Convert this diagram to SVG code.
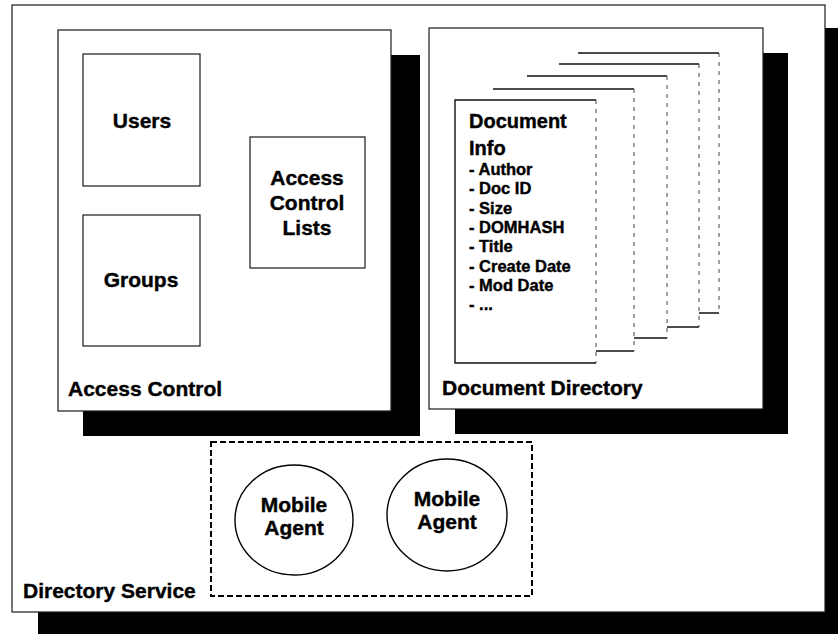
<svg xmlns="http://www.w3.org/2000/svg" width="838" height="634" viewBox="0 0 838 634">
<style>
.shadow{fill:#000}
.box{fill:#fff;stroke:#1a1a1a;stroke-width:1.2}
.cardbg{fill:#fff;stroke:none}
.edge{fill:none;stroke:#111;stroke-width:1.4}
.side{fill:none;stroke:#444;stroke-width:1;stroke-dasharray:4 5}
.agentbox{fill:none;stroke:#000;stroke-width:2;stroke-dasharray:6 3}
.agent{fill:#fff;stroke:#000;stroke-width:1.4}
text{font-family:"Liberation Sans",Arial,Helvetica,sans-serif;font-weight:bold;fill:#000;stroke:#000;stroke-width:0.4}
.t{font-size:21px}
.c{text-anchor:middle}
.h{font-size:20px}
.li{font-size:16.5px}
</style>
<rect width="838" height="634" fill="#fff"/>
<g id="directory-service">
<rect class="shadow" x="38" y="28" width="800" height="606"/>
<rect class="box" x="12" y="5" width="813" height="607"/>
<text class="t" x="23" y="598">Directory Service</text>
</g>
<g id="access-control">
<rect class="shadow" x="83" y="55" width="337" height="381"/>
<rect class="box" x="58" y="30" width="333" height="381"/>
<text class="t" x="68" y="396">Access Control</text>
</g>
<g id="users">
<rect class="box" x="83" y="54" width="117" height="132"/>
<text class="t c" x="142" y="128">Users</text>
</g>
<g id="groups">
<rect class="box" x="83" y="215" width="117" height="131"/>
<text class="t c" x="141" y="287">Groups</text>
</g>
<g id="access-control-lists">
<rect class="box" x="250" y="137" width="115" height="131"/>
<text class="t c" x="307" y="185">Access</text>
<text class="t c" x="307" y="210">Control</text>
<text class="t c" x="307" y="235">Lists</text>
</g>
<g id="document-directory">
<rect class="shadow" x="455" y="53" width="333" height="381"/>
<rect class="box" x="429" y="28" width="334" height="381"/>
<text class="t" x="442" y="395">Document Directory</text>
</g>
<g id="document-cards">
<rect class="cardbg" x="578" y="53" width="141" height="260"/>
<path class="edge" d="M578 53H719M699 313H719"/>
<path class="side" d="M719 53V313"/>
<rect class="cardbg" x="559" y="64" width="140" height="263"/>
<path class="edge" d="M559 64H699M667 327H699"/>
<path class="side" d="M699 64V327"/>
<rect class="cardbg" x="527" y="76" width="140" height="262"/>
<path class="edge" d="M527 76H667M634 338H667"/>
<path class="side" d="M667 76V338"/>
<rect class="cardbg" x="493" y="89" width="141" height="262"/>
<path class="edge" d="M493 89H634M596 351H634"/>
<path class="side" d="M634 89V351"/>
</g>
<g id="document-info">
<rect class="cardbg" x="455" y="100" width="141" height="263"/>
<path class="edge" d="M596 100H455V363H596"/>
<path class="side" d="M596 100V363"/>
<text class="h" x="469" y="128">Document</text>
<text class="h" x="469" y="155">Info</text>
<text class="li" x="469" y="175">- Author</text>
<text class="li" x="469" y="194">- Doc ID</text>
<text class="li" x="469" y="213.5">- Size</text>
<text class="li" x="469" y="233">- DOMHASH</text>
<text class="li" x="469" y="252">- Title</text>
<text class="li" x="469" y="271.5">- Create Date</text>
<text class="li" x="469" y="291">- Mod Date</text>
<text class="li" x="469" y="310">- ...</text>
</g>
<g id="mobile-agents">
<rect class="agentbox" x="211" y="442" width="321" height="154"/>
</g>
<g id="mobile-agent-1">
<ellipse class="agent" cx="294" cy="520" rx="59" ry="55"/>
<text class="t c" x="294" y="512">Mobile</text>
<text class="t c" x="294" y="535">Agent</text>
</g>
<g id="mobile-agent-2">
<ellipse class="agent" cx="447" cy="515" rx="60" ry="56"/>
<text class="t c" x="447" y="506">Mobile</text>
<text class="t c" x="447" y="529">Agent</text>
</g>
<g id="connectors"></g>
</svg>
